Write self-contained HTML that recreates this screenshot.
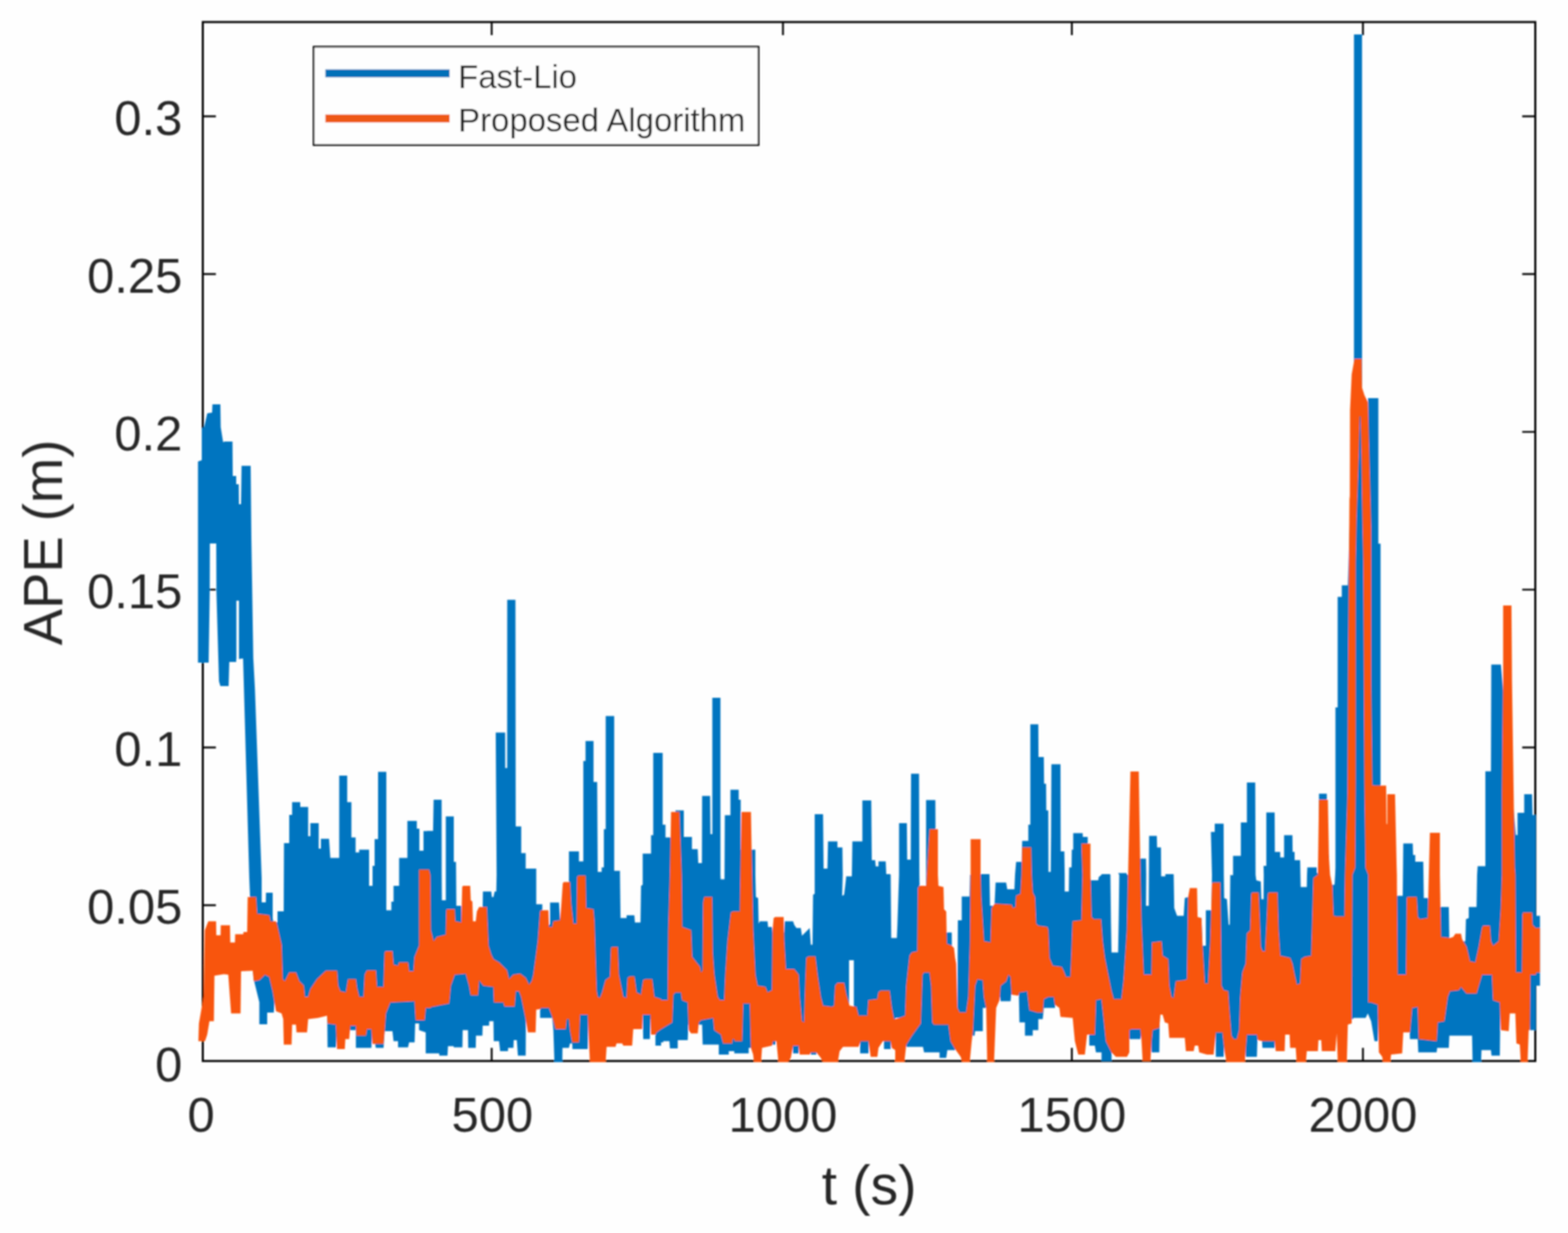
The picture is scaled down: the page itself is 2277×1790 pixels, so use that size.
<!DOCTYPE html>
<html lang="en"><head><meta charset="utf-8"><title>APE comparison: Fast-Lio vs Proposed Algorithm</title>
<style>
html,body{margin:0;padding:0;background:#fff;}
body{width:2277px;height:1790px;overflow:hidden;}
svg{display:block;}
text{font-family:"Liberation Sans",sans-serif;fill:#262626;}
.tick{font-size:71px;}
.lab{font-size:80px;}
.leg{font-size:47.8px;}
</style></head><body>
<svg width="2277" height="1790" viewBox="0 0 2277 1790">
<rect x="0" y="0" width="2277" height="1790" fill="#fefefe"/>
<defs><filter id="soft" x="0" y="0" width="2277" height="1790" filterUnits="userSpaceOnUse"><feGaussianBlur stdDeviation="0.8"/></filter></defs>
<g filter="url(#soft)">
<g stroke="#000000" stroke-width="3" fill="none" stroke-linecap="butt">
<rect x="294.5" y="32.0" width="1935.0" height="1508.3"/>
<path d="M714.0 1540.3v-19 M714.0 32.0v19" stroke-width="2.7"/>
<path d="M1137.0 1540.3v-19 M1137.0 32.0v19" stroke-width="2.7"/>
<path d="M1556.5 1540.3v-19 M1556.5 32.0v19" stroke-width="2.7"/>
<path d="M1979.2 1540.3v-19 M1979.2 32.0v19" stroke-width="2.7"/>
<path d="M294.5 1314.1h19 M2229.5 1314.1h-19" stroke-width="2.7"/>
<path d="M294.5 1085.1h19 M2229.5 1085.1h-19" stroke-width="2.7"/>
<path d="M294.5 856.0h19 M2229.5 856.0h-19" stroke-width="2.7"/>
<path d="M294.5 627.0h19 M2229.5 627.0h-19" stroke-width="2.7"/>
<path d="M294.5 397.9h19 M2229.5 397.9h-19" stroke-width="2.7"/>
<path d="M294.5 168.8h19 M2229.5 168.8h-19" stroke-width="2.7"/>
</g>
<clipPath id="plotclip"><rect x="285" y="30.5" width="1952" height="1511.5"/></clipPath>
<g clip-path="url(#plotclip)">
<g id="series-fast-lio" fill="#0074c0" stroke="none">
<path fill-rule="evenodd" d="M287.5 960.0 287.5 670.0 293.0 668.0 293.0 622.0 296.5 620.0 301.0 600.0 308.0 599.0 308.5 587.0 320.0 587.0 320.5 620.0 324.0 642.0 326.0 641.0 337.6 641.0 338.0 691.0 343.0 691.0 343.0 703.0 346.7 703.0 347.0 732.0 350.0 732.0 350.8 676.3 364.0 676.3 365.0 780.0 367.8 955.0 370.2 1000.0 380.0 1275.0 380.0 1310.0 386.0 1310.0 386.3 1296.0 396.0 1296.0 396.0 1334.0 397.5 1339.0 403.0 1339.0 403.0 1323.0 412.0 1323.0 412.4 1224.0 420.0 1224.0 420.0 1183.0 424.2 1183.0 424.2 1164.6 436.0 1164.6 436.0 1171.5 447.5 1171.5 447.5 1214.0 450.7 1214.0 450.7 1195.0 462.8 1195.0 462.8 1232.0 466.0 1232.0 466.0 1217.8 477.8 1217.8 479.7 1245.6 492.6 1245.6 492.6 1126.1 504.2 1126.1 504.2 1164.6 510.3 1164.6 510.3 1215.8 516.4 1215.8 516.4 1237.6 521.6 1237.6 521.6 1233.5 536.0 1233.5 536.0 1286.0 541.0 1286.0 541.0 1256.9 544.0 1256.9 544.0 1218.2 549.0 1218.2 549.0 1120.5 561.0 1120.5 561.0 1321.5 568.3 1321.5 568.3 1309.0 571.5 1309.0 571.5 1286.0 579.6 1286.0 579.6 1245.6 591.6 1245.6 591.6 1191.7 605.3 1191.7 605.3 1203.0 609.0 1203.0 609.0 1235.0 615.0 1235.0 615.0 1206.5 620.0 1206.5 620.0 1206.2 628.9 1206.2 629.7 1161.1 641.3 1161.1 641.4 1269.9 641.7 1307.0 647.4 1307.0 647.4 1185.2 659.0 1185.2 659.0 1251.3 662.2 1251.3 662.7 1315.1 669.9 1315.1 670.3 1342.5 700.5 1342.5 701.3 1294.2 713.4 1294.2 714.2 1302.2 716.6 1302.2 718.3 1294.2 720.7 1294.2 721.2 1270.0 719.9 1063.6 733.6 1063.6 733.7 1115.0 736.5 1115.0 736.6 870.7 748.5 870.7 748.9 1199.7 756.9 1199.7 756.9 1238.4 763.4 1238.4 763.4 1260.9 778.7 1260.9 778.7 1312.7 787.5 1312.7 787.5 1342.5 798.8 1342.5 798.8 1310.3 811.7 1310.3 813.3 1334.4 826.2 1334.4 826.2 1236.0 840.7 1236.0 840.7 1250.5 847.1 1250.5 847.1 1104.7 850.3 1104.7 850.3 1075.7 861.9 1075.7 861.9 1135.3 867.2 1135.3 868.0 1265.8 873.7 1265.8 873.7 1259.3 876.9 1259.3 876.9 1203.8 879.6 1203.8 879.6 1039.5 891.9 1039.5 891.9 1264.2 900.3 1264.2 900.3 1270.0 901.1 1332.8 909.9 1332.8 909.9 1328.8 921.2 1328.8 922.0 1339.3 930.1 1339.3 930.9 1286.1 933.3 1284.5 933.3 1239.2 945.4 1239.2 945.4 1212.6 948.6 1212.6 948.6 1093.1 960.0 1093.1 960.0 1093.1 962.3 1093.1 962.3 1197.3 966.4 1197.3 966.4 1215.8 980.9 1215.8 980.9 1176.4 993.0 1176.4 993.0 1215.0 1004.8 1215.0 1004.8 1232.7 1013.2 1232.7 1014.0 1252.9 1019.3 1252.9 1019.6 1155.4 1031.2 1155.4 1031.7 1211.0 1034.4 1211.0 1034.4 1012.9 1046.2 1012.9 1046.2 1269.9 1046.5 1276.4 1052.1 1276.4 1052.6 1183.6 1060.7 1183.6 1060.7 1146.6 1072.7 1146.6 1072.7 1161.1 1075.6 1161.1 1075.6 1233.5 1096.9 1233.5 1096.9 1269.9 1097.7 1302.2 1100.9 1303.8 1101.7 1340.9 1103.4 1337.6 1114.6 1337.6 1115.4 1345.7 1121.1 1345.7 1121.9 1353.8 1138.8 1353.8 1139.6 1337.6 1151.7 1337.6 1153.3 1342.5 1156.5 1347.3 1162.9 1347.3 1164.6 1358.6 1175.8 1347.3 1177.4 1371.5 1179.9 1371.5 1180.7 1299.0 1183.1 1297.4 1183.1 1270.0 1183.1 1182.0 1195.2 1182.0 1196.0 1260.9 1201.6 1260.9 1202.4 1221.5 1216.1 1221.5 1216.1 1230.3 1223.3 1230.3 1223.8 1269.9 1222.9 1300.6 1225.8 1299.0 1227.4 1286.1 1229.0 1271.6 1228.7 1272.2 1237.0 1272.2 1237.8 1221.5 1252.3 1221.5 1252.3 1161.9 1265.2 1161.9 1266.0 1248.8 1270.9 1248.8 1271.7 1257.7 1275.7 1257.7 1275.7 1250.5 1286.2 1250.5 1287.0 1269.0 1292.6 1269.0 1293.4 1269.9 1294.2 1361.8 1300.0 1361.8 1300.0 1361.8 1302.4 1361.8 1303.2 1342.5 1305.6 1270.0 1305.6 1194.9 1316.9 1194.9 1317.4 1248.0 1322.5 1248.0 1323.0 1123.2 1334.6 1123.2 1335.1 1269.9 1335.4 1286.1 1344.8 1286.1 1344.8 1161.6 1358.3 1161.6 1358.8 1269.9 1358.8 1382.7 1373.3 1382.7 1374.1 1353.8 1382.1 1353.8 1382.9 1471.3 1390.2 1471.3 1391.0 1336.0 1396.6 1336.0 1396.6 1301.4 1407.9 1301.4 1408.7 1270.0 1424.0 1269.0 1436.9 1269.0 1437.7 1315.1 1444.2 1315.1 1445.8 1281.3 1461.1 1281.3 1462.7 1290.9 1473.1 1290.9 1474.0 1270.0 1475.6 1251.3 1483.6 1251.3 1484.4 1220.7 1493.3 1220.7 1493.3 1197.3 1496.2 1197.3 1496.2 1051.5 1507.8 1051.5 1508.1 1099.1 1515.8 1099.1 1516.2 1137.7 1519.1 1137.7 1519.4 1176.4 1522.3 1176.4 1522.6 1265.8 1525.8 1265.8 1526.3 1212.6 1526.8 1109.5 1540.0 1109.5 1540.3 1236.0 1545.6 1236.0 1546.1 1269.9 1546.1 1294.2 1552.1 1294.2 1552.6 1259.3 1556.1 1259.3 1556.4 1233.5 1558.5 1233.5 1558.5 1209.4 1572.2 1209.4 1572.5 1215.0 1579.5 1215.0 1579.9 1269.9 1584.3 1278.1 1594.8 1278.1 1595.6 1273.2 1599.6 1270.0 1599.6 1269.0 1611.7 1269.0 1612.5 1270.0 1613.3 1339.3 1614.1 1382.7 1623.7 1382.7 1624.6 1334.4 1625.4 1270.0 1623.7 1267.4 1635.8 1267.4 1636.6 1270.0 1640.0 1270.0 1640.0 1246.4 1664.2 1246.4 1664.5 1269.9 1664.2 1315.1 1668.2 1315.1 1668.7 1213.4 1679.9 1213.4 1680.3 1230.3 1685.9 1230.3 1686.2 1272.2 1692.3 1272.2 1692.3 1269.0 1704.1 1269.0 1704.4 1269.9 1705.2 1318.3 1709.3 1329.6 1718.9 1329.6 1720.5 1303.8 1725.4 1302.2 1739.1 1332.8 1744.7 1332.8 1746.3 1373.1 1751.1 1373.1 1751.1 1321.5 1759.2 1321.5 1760.0 1270.0 1758.4 1207.8 1764.0 1207.8 1764.0 1195.7 1776.9 1195.7 1777.2 1269.9 1777.7 1303.8 1781.7 1305.4 1784.2 1342.5 1785.8 1342.5 1786.6 1270.0 1785.8 1270.6 1790.6 1270.6 1790.6 1242.4 1801.9 1242.4 1801.9 1194.1 1810.7 1194.1 1810.7 1136.1 1822.8 1136.1 1823.3 1269.9 1824.4 1278.1 1830.9 1279.7 1831.7 1305.4 1834.9 1305.4 1835.2 1270.0 1834.9 1256.9 1838.9 1256.9 1838.9 1179.6 1851.0 1179.6 1851.3 1236.8 1859.1 1236.8 1859.1 1244.8 1864.7 1244.8 1864.7 1212.6 1876.8 1212.6 1877.1 1236.8 1880.0 1236.8 1880.0 1248.8 1888.0 1248.8 1888.4 1269.9 1888.8 1287.7 1897.7 1287.7 1898.0 1270.0 1898.5 1259.3 1912.2 1259.3 1912.2 1267.4 1915.4 1267.4 1915.4 1152.2 1926.7 1152.2 1927.5 1241.6 1929.9 1241.6 1930.2 1269.9 1930.7 1284.5 1938.0 1284.5 1938.9 1270.0 1939.3 1259.9 1939.3 1027.0 1942.5 1027.0 1942.5 866.6 1948.5 866.6 1948.5 849.7 1957.3 849.7 1966.2 562.7 1966.2 50.1 1977.9 50.1 1977.9 611.1 1986.6 611.1 1986.6 578.0 2001.6 578.0 2001.6 789.3 2004.8 789.3 2004.8 1139.8 2005.6 1199.4 2025.8 1199.4 2028.2 1300.6 2037.0 1300.6 2037.8 1224.4 2051.5 1224.4 2052.0 1241.3 2055.2 1241.3 2055.2 1250.9 2066.8 1250.9 2067.6 1303.8 2075.7 1303.8 2076.5 1316.7 2103.9 1316.7 2104.7 1366.6 2128.0 1366.6 2128.8 1334.4 2132.9 1332.8 2132.9 1316.7 2144.2 1316.7 2145.0 1270.0 2145.8 1257.4 2157.0 1257.4 2157.0 1119.7 2165.1 1119.7 2165.6 964.8 2179.6 964.8 2201.3 1212.3 2203.7 1212.3 2203.7 1180.1 2213.4 1180.1 2213.4 1153.0 2224.7 1153.0 2225.5 1183.3 2230.0 1183.3 2230.3 1329.6 2236.3 1329.6 2236.3 1431.1 2230.3 1431.1 2230.0 1495.5 2221.5 1495.5 2219.9 1463.3 2178.8 1463.3 2178.0 1532.5 2165.9 1532.5 2165.1 1524.5 2151.4 1524.5 2150.6 1544.9 2138.5 1544.9 2137.7 1503.5 2104.7 1503.5 2103.9 1521.3 2087.0 1521.3 2086.2 1527.7 2059.6 1527.7 2058.8 1508.4 2047.5 1508.4 2046.7 1479.4 2001.6 1479.4 2000.8 1511.6 1996.0 1511.6 1991.1 1482.6 1986.3 1471.3 1983.1 1477.8 1965.4 1477.8 1964.6 1479.4 1939.0 1479.4 1938.9 1479.4 1851.8 1479.4 1851.0 1521.3 1833.3 1521.3 1832.5 1508.4 1826.0 1508.4 1825.2 1534.2 1809.1 1534.2 1808.3 1519.7 1777.7 1519.7 1776.9 1534.2 1765.6 1534.2 1764.8 1463.3 1684.3 1463.3 1683.5 1527.7 1672.2 1527.7 1671.4 1503.5 1656.9 1503.5 1656.1 1508.4 1640.0 1508.4 1640.0 1479.4 1614.9 1479.4 1614.1 1540.6 1599.6 1540.6 1599.6 1527.7 1591.5 1527.7 1589.9 1518.0 1581.9 1518.0 1581.1 1455.2 1532.7 1455.2 1531.9 1463.3 1515.8 1463.3 1514.2 1479.4 1507.8 1479.4 1507.8 1495.5 1499.7 1495.5 1499.7 1503.5 1488.4 1503.5 1488.4 1484.2 1480.4 1484.2 1479.6 1444.0 1468.3 1444.0 1467.5 1453.6 1453.0 1453.6 1452.2 1447.2 1434.5 1447.2 1433.7 1463.3 1427.2 1463.3 1427.2 1497.1 1416.0 1497.1 1415.2 1503.5 1387.8 1503.5 1387.0 1524.5 1375.7 1524.5 1374.1 1535.8 1364.4 1535.8 1364.4 1527.7 1341.9 1527.7 1340.3 1519.7 1316.1 1519.7 1315.3 1477.8 1300.0 1477.8 1300.0 1495.5 1294.2 1495.5 1293.4 1522.9 1283.7 1522.9 1283.7 1495.5 1262.0 1495.5 1261.2 1529.3 1249.1 1529.3 1249.1 1495.5 1186.3 1495.5 1185.5 1530.9 1177.4 1530.9 1177.4 1495.5 1160.5 1495.5 1159.7 1529.3 1151.7 1529.3 1150.1 1495.5 1126.7 1495.5 1125.9 1516.4 1121.1 1516.4 1121.1 1495.5 1094.5 1495.5 1093.7 1521.3 1087.2 1521.3 1087.2 1529.3 1066.3 1529.3 1066.3 1526.1 1058.3 1526.1 1058.3 1530.9 1043.8 1530.9 1043.8 1516.4 1020.4 1516.4 1019.6 1487.4 999.5 1487.4 998.7 1510.0 984.2 1510.0 984.2 1522.1 972.9 1522.1 972.1 1511.6 963.2 1511.6 963.2 1513.2 960.0 1513.2 960.0 1518.0 951.8 1518.0 951.8 1479.4 944.6 1479.4 943.7 1508.4 934.1 1508.4 933.3 1471.3 854.4 1471.3 853.5 1522.9 831.3 1522.9 831.0 1514.8 827.8 1514.8 826.2 1521.3 816.8 1521.3 816.5 1544.9 805.2 1544.9 803.6 1495.5 802.0 1477.8 784.3 1477.8 784.3 1447.2 764.2 1447.2 763.7 1479.4 763.4 1532.5 752.1 1532.5 750.5 1510.0 746.0 1510.0 745.6 1521.3 737.9 1521.3 737.6 1526.1 726.3 1526.1 724.7 1511.6 717.0 1511.6 716.6 1482.6 710.5 1482.6 710.2 1489.1 700.9 1489.1 700.5 1503.5 691.2 1503.5 690.9 1521.3 679.9 1521.3 679.6 1495.5 671.9 1495.5 671.5 1520.5 659.0 1520.5 658.7 1518.8 650.6 1518.8 649.8 1532.5 638.0 1532.5 637.7 1529.3 620.0 1529.3 620.0 1529.3 618.2 1529.3 618.2 1498.7 608.6 1495.5 608.6 1485.8 602.9 1485.8 602.1 1513.2 594.1 1513.2 592.5 1520.5 578.0 1520.5 578.0 1511.6 571.5 1511.6 569.9 1497.1 558.6 1497.1 557.0 1521.3 545.8 1521.3 540.9 1495.5 539.3 1521.3 516.8 1521.3 516.8 1495.5 489.4 1495.5 487.8 1520.5 475.7 1520.5 474.9 1447.2 399.2 1447.2 397.6 1470.0 388.0 1470.0 388.0 1487.0 376.6 1487.0 376.6 1455.0 368.0 1420.0 362.0 1275.0 353.0 956.0 343.0 957.0 343.0 961.0 333.0 961.0 332.0 996.0 320.0 996.0 318.0 989.0 314.3 860.0 314.0 789.0 304.8 789.0 304.6 860.0 303.0 962.0 287.5 962.0Z M343.3 872.0 347.0 872.0 347.0 957.0 343.3 957.0Z M1233.0 1394.0 1239.9 1394.0 1239.9 1460.9 1233.0 1460.9Z"/>
</g>
<g id="series-proposed" fill="#f8540c" stroke="none">
<path fill-rule="evenodd" d="M288.1 1511.6 288.9 1485.8 296.1 1444.0 297.4 1350.5 302.5 1337.6 313.8 1337.6 314.1 1357.8 320.3 1357.8 320.6 1343.3 334.0 1343.3 334.4 1368.3 341.2 1368.3 341.5 1356.2 353.3 1356.2 353.6 1352.9 358.9 1352.9 359.7 1302.2 371.8 1302.2 373.4 1326.4 391.1 1328.8 392.7 1337.6 400.8 1337.6 402.4 1342.5 408.9 1371.5 410.5 1421.4 413.7 1424.6 420.1 1411.7 429.8 1411.7 434.6 1424.6 441.1 1431.1 442.7 1447.2 447.5 1447.2 450.7 1435.9 460.4 1421.4 473.3 1409.3 489.4 1409.3 491.0 1431.1 494.2 1439.1 502.3 1440.7 505.5 1421.4 516.8 1421.4 518.4 1434.3 521.6 1447.2 528.0 1447.2 529.7 1415.0 532.9 1408.8 545.8 1408.8 547.4 1432.7 557.0 1432.7 558.6 1382.7 560.3 1381.1 569.9 1381.1 571.5 1400.5 578.0 1402.1 579.6 1397.2 592.5 1397.2 594.1 1410.1 600.5 1410.1 602.1 1389.2 608.6 1373.1 608.6 1262.6 620.0 1262.6 620.0 1262.6 622.9 1262.6 624.8 1270.0 625.6 1350.5 629.7 1366.6 634.5 1360.2 647.4 1357.0 648.2 1321.5 649.0 1319.9 660.3 1319.9 661.1 1337.6 669.9 1339.3 671.2 1287.7 672.3 1286.1 682.8 1286.1 683.6 1307.0 686.0 1308.7 686.8 1337.6 690.9 1337.6 692.5 1323.2 695.7 1316.7 707.0 1316.7 707.8 1337.6 709.4 1373.1 713.4 1386.0 716.6 1392.4 724.7 1397.2 736.0 1408.5 739.2 1421.4 745.6 1415.0 755.3 1413.4 763.4 1419.8 768.2 1429.5 772.2 1424.6 774.6 1415.0 781.1 1366.6 784.3 1323.2 785.9 1321.5 796.4 1321.5 797.2 1345.7 802.0 1345.7 803.6 1337.6 813.3 1336.0 814.9 1316.7 817.3 1282.1 818.9 1280.5 827.8 1280.5 829.4 1311.9 832.6 1340.9 837.4 1340.9 838.2 1273.2 839.9 1271.3 850.3 1271.3 851.1 1318.3 861.6 1319.9 863.2 1337.6 864.8 1390.8 866.4 1439.1 868.0 1447.2 871.3 1448.8 874.5 1440.7 879.3 1423.0 885.8 1418.2 887.4 1376.3 889.0 1374.7 897.0 1374.7 898.6 1415.0 901.9 1431.1 905.1 1447.2 909.9 1448.8 911.5 1419.8 914.8 1417.4 921.2 1417.4 924.4 1440.7 930.9 1444.0 934.1 1423.0 937.3 1421.4 947.0 1421.4 950.2 1447.2 960.0 1450.4 960.0 1452.0 969.7 1452.0 970.5 1350.5 972.9 1270.0 974.5 1178.8 986.6 1178.8 989.8 1270.0 990.6 1345.7 1003.5 1350.5 1005.1 1389.2 1016.4 1403.7 1018.0 1411.7 1020.4 1408.5 1021.2 1310.3 1022.8 1302.2 1034.1 1302.2 1034.9 1382.7 1037.3 1415.0 1042.1 1447.2 1045.4 1452.0 1051.8 1452.0 1053.4 1415.0 1056.6 1366.6 1061.5 1324.8 1064.7 1323.2 1074.4 1323.2 1075.2 1270.0 1076.8 1178.8 1090.5 1178.8 1092.1 1270.0 1093.7 1350.5 1096.9 1415.0 1100.1 1431.1 1111.4 1432.7 1114.6 1440.7 1121.1 1437.5 1121.9 1350.5 1123.5 1332.8 1125.9 1331.2 1138.0 1331.2 1138.8 1366.6 1141.2 1406.9 1153.3 1406.9 1159.7 1415.0 1161.3 1447.2 1164.6 1482.6 1167.8 1484.2 1169.4 1431.1 1171.0 1390.8 1174.2 1388.4 1183.9 1388.4 1187.1 1415.0 1191.9 1447.2 1195.2 1460.1 1208.0 1461.7 1211.3 1460.1 1212.9 1431.1 1216.1 1427.0 1225.8 1427.0 1229.0 1444.0 1233.8 1460.1 1243.5 1461.7 1246.7 1474.6 1259.6 1474.6 1261.2 1452.0 1274.1 1450.4 1275.7 1440.7 1278.9 1438.3 1291.8 1438.3 1295.0 1463.3 1298.2 1479.4 1300.0 1479.4 1300.0 1479.4 1306.4 1477.8 1314.5 1474.6 1316.1 1431.1 1320.9 1387.6 1324.2 1382.7 1332.2 1381.1 1333.0 1289.3 1335.4 1286.1 1345.1 1286.1 1345.9 1270.0 1349.9 1203.8 1362.0 1203.8 1362.0 1270.0 1362.8 1286.1 1370.1 1287.7 1370.9 1319.9 1374.1 1323.2 1374.9 1369.9 1382.1 1373.1 1385.4 1376.3 1387.0 1390.8 1388.6 1398.9 1390.2 1463.3 1393.4 1469.7 1403.1 1469.7 1406.3 1447.2 1408.7 1366.6 1409.5 1270.0 1409.5 1218.2 1424.0 1218.2 1424.0 1270.0 1424.8 1302.2 1428.9 1366.6 1438.5 1368.3 1440.1 1318.3 1443.4 1313.5 1445.0 1311.9 1469.1 1313.5 1470.7 1318.3 1474.8 1316.7 1475.6 1300.6 1482.0 1297.4 1483.6 1270.0 1484.4 1230.3 1497.3 1230.3 1498.1 1270.0 1499.7 1295.8 1502.9 1302.2 1504.6 1340.9 1507.8 1344.1 1520.7 1345.7 1522.3 1350.5 1523.9 1390.8 1528.7 1402.1 1541.6 1403.7 1544.8 1410.1 1548.0 1418.2 1554.5 1418.2 1556.1 1382.7 1557.7 1337.6 1570.6 1336.0 1572.2 1270.0 1570.6 1224.7 1583.5 1224.7 1583.5 1270.0 1585.1 1331.2 1588.3 1334.4 1598.8 1334.4 1601.2 1366.6 1604.4 1390.8 1609.2 1415.0 1614.1 1439.1 1617.3 1450.4 1628.6 1450.4 1631.8 1423.0 1636.6 1350.5 1638.2 1270.0 1641.6 1120.0 1653.7 1120.0 1656.1 1270.0 1657.7 1342.5 1660.9 1415.0 1672.2 1415.0 1673.0 1368.3 1686.7 1366.6 1688.3 1387.6 1696.4 1392.4 1698.0 1431.1 1701.2 1447.2 1704.4 1448.8 1707.6 1424.6 1720.5 1423.0 1723.8 1421.4 1725.4 1302.2 1727.8 1289.3 1738.3 1289.3 1739.1 1331.2 1744.7 1332.8 1746.3 1373.1 1749.5 1427.8 1754.4 1427.8 1757.6 1366.6 1760.0 1282.9 1761.6 1281.3 1772.1 1281.3 1772.9 1350.5 1773.7 1431.1 1776.9 1437.5 1783.4 1439.1 1785.0 1463.3 1788.2 1503.5 1791.4 1508.4 1796.2 1508.4 1799.5 1495.5 1801.1 1447.2 1804.3 1411.7 1809.1 1398.9 1810.7 1355.4 1815.6 1350.5 1817.2 1297.4 1818.8 1295.8 1827.6 1295.8 1829.3 1334.4 1830.9 1374.7 1833.3 1381.1 1837.3 1381.1 1839.7 1334.4 1841.3 1297.4 1842.9 1295.8 1855.0 1295.8 1856.6 1350.5 1859.1 1387.6 1873.5 1390.8 1876.8 1398.9 1880.0 1415.0 1883.2 1429.5 1888.0 1427.8 1889.7 1392.4 1894.5 1389.2 1904.2 1387.6 1905.8 1334.4 1907.4 1274.8 1913.8 1270.0 1915.4 1161.1 1928.3 1161.1 1929.9 1244.8 1931.5 1270.0 1934.8 1286.1 1936.4 1329.6 1938.9 1329.6 1939.0 1330.4 1952.5 1330.4 1953.3 1270.0 1957.0 1151.1 1957.6 990.0 1959.7 720.0 1960.2 724.9 1960.5 595.0 1962.9 543.4 1967.0 520.9 1977.4 520.9 1977.9 562.7 1981.5 574.0 1986.3 583.7 1987.1 611.1 1991.1 768.3 1991.1 994.9 1992.7 1139.8 1996.8 1140.6 2012.9 1140.6 2013.4 1196.2 2014.5 1196.2 2014.5 1153.0 2025.8 1153.0 2028.2 1259.9 2028.5 1270.0 2029.5 1415.0 2041.9 1415.0 2043.0 1303.8 2044.3 1302.2 2057.2 1302.2 2058.8 1331.2 2062.0 1334.4 2073.3 1332.8 2074.9 1270.0 2076.5 1209.1 2091.0 1209.1 2091.0 1270.0 2091.8 1318.3 2092.6 1360.2 2105.5 1361.8 2110.3 1360.2 2113.5 1355.4 2121.6 1355.4 2123.2 1363.4 2129.7 1374.7 2134.5 1395.6 2142.5 1397.2 2147.4 1374.7 2152.2 1347.3 2153.8 1344.1 2163.5 1344.1 2165.1 1366.6 2168.3 1373.1 2176.4 1366.6 2179.6 1318.3 2181.2 1270.0 2181.2 1151.1 2182.8 990.0 2182.8 879.1 2194.9 879.1 2195.7 990.0 2199.7 1259.9 2200.5 1270.0 2201.3 1411.7 2210.2 1411.7 2211.0 1328.0 2211.8 1324.8 2224.7 1324.8 2225.5 1342.5 2230.0 1347.3 2236.3 1347.3 2236.3 1411.7 2231.1 1411.7 2230.0 1415.0 2222.3 1415.0 2221.5 1495.5 2219.9 1495.5 2218.2 1544.9 2208.6 1544.9 2207.0 1516.4 2202.1 1514.8 2200.5 1471.3 2192.5 1471.3 2190.9 1497.1 2179.6 1495.5 2178.0 1455.2 2168.3 1452.0 2166.7 1415.0 2152.2 1415.0 2147.4 1431.1 2144.2 1442.3 2129.7 1442.3 2121.6 1432.7 2118.4 1437.5 2105.5 1439.1 2102.3 1447.2 2097.4 1482.6 2087.8 1484.2 2086.2 1511.6 2060.4 1508.4 2058.8 1461.7 2050.7 1463.3 2047.5 1498.7 2037.8 1498.7 2036.2 1529.3 2020.1 1530.9 2018.5 1544.9 2008.9 1544.9 2007.2 1534.2 2002.4 1527.7 2000.8 1458.4 1991.1 1455.2 1987.1 1455.2 1987.1 1270.0 1983.1 1259.9 1981.5 1135.0 1979.9 816.6 1978.6 752.2 1977.1 659.4 1975.7 604.6 1974.4 604.6 1973.1 659.4 1969.9 752.2 1968.6 816.6 1968.6 1135.0 1967.8 1259.9 1963.8 1270.0 1962.9 1485.8 1957.3 1487.4 1955.7 1544.9 1942.8 1544.9 1941.2 1500.3 1939.0 1527.7 1938.9 1526.1 1919.5 1526.1 1918.6 1510.0 1914.6 1510.0 1913.8 1526.1 1897.7 1526.1 1896.1 1544.9 1883.2 1544.9 1881.6 1521.3 1873.5 1521.3 1872.7 1501.9 1866.3 1501.9 1865.5 1526.1 1852.6 1526.1 1851.0 1511.6 1833.3 1511.6 1826.8 1510.0 1825.2 1501.9 1810.7 1501.9 1809.1 1521.3 1807.5 1544.9 1781.7 1544.9 1778.5 1527.7 1775.3 1498.7 1765.6 1498.7 1762.4 1530.9 1752.7 1530.9 1741.5 1527.7 1739.9 1518.0 1735.0 1518.0 1733.4 1526.1 1722.1 1526.1 1720.5 1506.8 1698.0 1506.8 1696.4 1485.8 1691.5 1484.2 1688.3 1472.9 1685.1 1472.9 1683.5 1492.3 1673.8 1495.5 1672.2 1511.6 1670.6 1540.6 1659.3 1540.6 1657.7 1511.6 1656.1 1493.9 1643.2 1493.9 1640.0 1495.5 1640.0 1527.7 1636.6 1534.2 1620.5 1534.2 1614.1 1527.7 1606.0 1511.6 1602.8 1479.4 1599.6 1450.4 1591.5 1452.0 1589.9 1501.9 1578.6 1501.9 1575.4 1530.9 1565.8 1530.9 1560.9 1511.6 1557.7 1477.8 1540.0 1476.2 1538.4 1463.3 1531.9 1458.4 1530.3 1447.2 1522.3 1447.2 1515.8 1450.4 1514.2 1469.7 1506.2 1469.7 1494.9 1466.5 1491.7 1439.1 1480.4 1440.7 1478.8 1445.6 1469.1 1444.0 1467.5 1418.2 1464.3 1415.0 1461.1 1424.6 1453.0 1431.1 1451.4 1452.0 1446.6 1463.3 1443.4 1544.9 1433.7 1544.9 1432.1 1463.3 1428.9 1447.2 1427.2 1423.0 1419.2 1421.4 1416.0 1431.1 1412.7 1498.7 1411.1 1511.6 1407.9 1544.9 1398.3 1544.9 1395.0 1534.2 1387.0 1522.9 1380.5 1511.6 1377.3 1487.4 1356.4 1487.4 1354.0 1484.2 1352.3 1431.1 1349.9 1411.7 1341.9 1411.7 1339.5 1415.0 1337.0 1485.8 1324.2 1503.5 1316.1 1516.4 1312.9 1544.9 1300.0 1544.9 1300.0 1524.5 1295.0 1521.3 1293.4 1511.6 1282.1 1511.6 1275.7 1521.3 1274.1 1534.2 1264.4 1534.2 1261.2 1511.6 1249.9 1511.6 1246.7 1519.7 1224.2 1519.7 1219.3 1526.1 1216.1 1544.9 1196.8 1544.9 1191.9 1535.8 1185.5 1527.7 1177.4 1527.7 1175.8 1530.9 1161.3 1530.9 1159.7 1518.0 1151.7 1518.0 1148.4 1535.8 1142.0 1544.9 1130.7 1544.9 1127.5 1511.6 1122.7 1511.6 1121.1 1518.0 1106.6 1521.3 1105.0 1544.9 1095.3 1544.9 1093.7 1530.9 1090.5 1521.3 1088.9 1456.8 1079.2 1456.8 1077.6 1511.6 1067.1 1511.6 1066.3 1508.4 1063.9 1508.4 1063.1 1514.8 1050.2 1514.8 1047.0 1501.9 1037.3 1495.5 1035.7 1477.8 1018.0 1481.0 1014.8 1484.2 1013.2 1500.3 1003.5 1500.3 1000.3 1495.5 998.7 1455.2 990.6 1452.0 989.0 1440.7 980.9 1440.7 977.7 1444.0 976.1 1484.2 960.0 1493.9 960.0 1493.9 953.4 1498.7 951.8 1501.9 945.4 1501.9 944.6 1472.9 933.3 1472.9 932.5 1493.9 919.6 1493.9 918.0 1518.0 905.1 1518.0 903.5 1514.8 895.4 1514.8 893.8 1519.7 880.9 1519.7 879.3 1544.9 856.8 1544.9 855.2 1511.6 853.5 1472.9 842.3 1472.9 840.7 1513.2 831.0 1513.2 827.8 1495.5 826.2 1479.4 822.9 1479.4 821.3 1493.9 806.8 1493.9 802.0 1476.2 797.2 1463.3 785.9 1463.3 784.3 1464.9 778.7 1465.7 777.8 1498.7 766.6 1498.7 763.4 1479.4 756.9 1447.2 753.7 1439.1 748.9 1439.1 747.2 1460.9 732.7 1460.9 731.1 1455.2 717.4 1455.2 716.6 1432.7 702.1 1431.1 695.7 1423.0 694.1 1444.8 683.6 1444.8 681.2 1431.1 676.4 1413.4 660.3 1415.0 654.6 1431.1 652.2 1456.8 626.4 1461.7 624.8 1463.3 620.0 1463.3 620.0 1463.3 618.2 1463.3 616.6 1481.0 603.7 1481.0 602.1 1453.6 566.7 1455.2 560.3 1471.3 558.6 1495.5 557.0 1515.6 540.9 1515.6 539.3 1493.9 532.9 1493.9 531.3 1503.5 517.6 1503.5 516.8 1489.1 508.7 1489.1 507.1 1508.4 501.5 1508.4 500.7 1522.9 489.4 1522.9 487.8 1487.4 475.7 1485.8 474.9 1474.6 462.0 1477.8 447.5 1479.4 445.9 1498.7 430.6 1498.7 429.8 1487.4 424.2 1487.4 423.4 1516.4 412.1 1516.4 411.3 1479.4 408.9 1471.3 400.8 1468.1 396.0 1439.1 391.1 1418.2 384.7 1415.0 376.6 1423.0 368.6 1424.6 367.0 1409.3 350.1 1410.1 349.3 1471.3 335.6 1471.3 331.5 1415.0 325.1 1414.2 311.4 1416.6 310.6 1482.6 304.2 1482.6 300.9 1501.9 297.7 1511.6 288.1 1511.6Z"/>
</g>
</g>
<g class="tick" text-anchor="middle">
<text x="292.0" y="1643.2">0</text>
<text x="715.0" y="1643.2">500</text>
<text x="1137.0" y="1643.2">1000</text>
<text x="1556.5" y="1643.2">1500</text>
<text x="1979.2" y="1643.2">2000</text>
</g>
<g class="tick" text-anchor="end">
<text x="264.8" y="1570.2">0</text>
<text x="264.8" y="1341.1">0.05</text>
<text x="264.8" y="1112.1">0.1</text>
<text x="264.8" y="883.0">0.15</text>
<text x="264.8" y="654.0">0.2</text>
<text x="264.8" y="424.9">0.25</text>
<text x="264.8" y="195.8">0.3</text>
</g>
<text class="lab" text-anchor="middle" x="1262" y="1747.5">t (s)</text>
<text class="lab" style="font-size:79px" text-anchor="middle" transform="translate(90 787.5) rotate(-90)">APE (m)</text>
<g>
<rect x="455.5" y="67.9" width="646" height="142.6" fill="#fefefe" stroke="#000000" stroke-width="2.6"/>
<path d="M472.5 106.4H653" stroke="#0070b8" stroke-width="11.5" fill="none"/>
<path d="M472.5 172H653" stroke="#ee5816" stroke-width="11.5" fill="none"/>
<text class="leg" x="665.3" y="127.5">Fast-Lio</text>
<text class="leg" x="665.3" y="191">Proposed Algorithm</text>
</g>
</g>
</svg></body></html>
